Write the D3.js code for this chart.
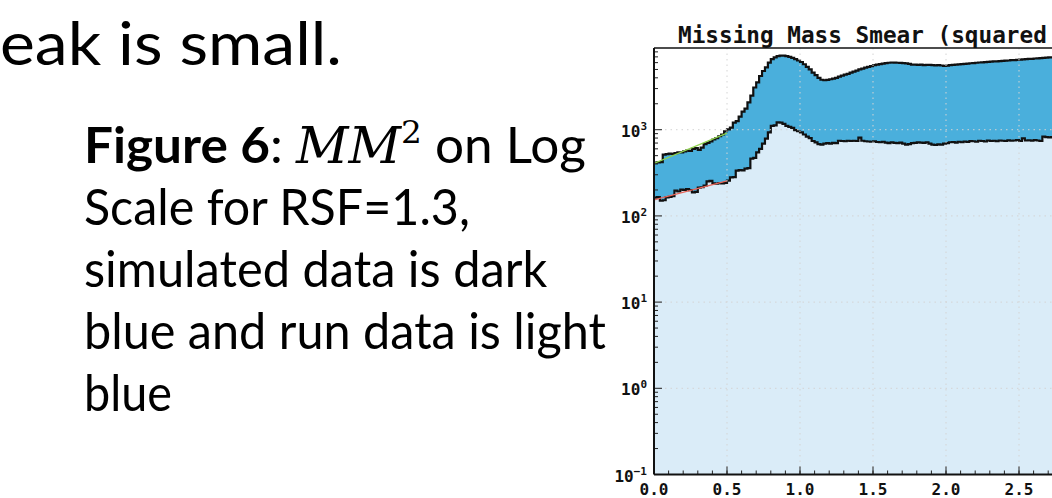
<!DOCTYPE html>
<html>
<head>
<meta charset="utf-8">
<script src="https://cdn.jsdelivr.net/npm/d3@7"></script>
<style>
  html, body { margin: 0; padding: 0; background: #fff; }
  svg { display: block; }
</style>
</head>
<body>
<script>
// histogram bins: left edge of first bin and bin width (MM^2, GeV^2)
var binStart = 0.0;
var binWidth = 0.02;

// simulated data (dark blue), counts per bin
var simCounts = [
  415, 418, 420, 513, 520, 528, 525, 535, 548, 545,
  560, 572, 568, 600, 610, 585, 620, 680, 705, 730,
  770, 800, 840, 880, 960, 1010, 1060, 1210, 1260, 1420,
  1620, 1760, 2070, 2480, 3090, 3550, 4200, 4800, 5300, 6000,
  6600, 6900, 7150, 7250, 7250, 7150, 7000, 6800, 6600, 6350,
  6100, 5750, 5350, 5000, 4600, 4300, 4000, 3800, 3750, 3780,
  3850, 3920, 4000, 4120, 4230, 4350, 4450, 4600, 4720, 4850,
  5000, 5120, 5250, 5360, 5480, 5600, 5700, 5780, 5850, 5920,
  5980, 6020, 6000, 5980, 5960, 5930, 5880, 5800, 5680, 5700,
  5650, 5680, 5620, 5640, 5660, 5600, 5580, 5620, 5560, 5500,
  5540, 5600, 5650, 5700, 5720, 5780, 5800, 5850, 5900, 5920,
  5980, 6020, 6050, 6080, 6120, 6150, 6200, 6220, 6250, 6300,
  6320, 6350, 6400, 6420, 6450, 6500, 6550, 6580, 6620, 6650,
  6700, 6720, 6780, 6820, 6870, 6900, 6920
];

// run data (light blue), counts per bin
var runCounts = [
  163, 165, 150, 152, 164, 166, 170, 196, 192, 202,
  200, 204, 199, 188, 190, 213, 215, 225, 252, 255,
  238, 236, 240, 238, 242, 256, 280, 282, 335, 340,
  338, 354, 358, 461, 470, 546, 600, 690, 786, 930,
  1110, 1120, 1215, 1210, 1170, 1110, 1080, 1050, 990, 960,
  930, 880, 830, 800, 740, 713, 680, 670, 690, 700,
  690, 705, 700, 745, 740, 735, 745, 740, 745, 740,
  808, 745, 735, 730, 725, 735, 720, 715, 725, 710,
  700, 715, 705, 700, 710, 690, 670, 680, 700, 705,
  713, 710, 705, 715, 690, 670, 665, 675, 670, 690,
  700, 715, 720, 710, 725, 715, 730, 720, 740, 735,
  725, 745, 740, 730, 750, 740, 745, 735, 750, 745,
  740, 755, 745, 750, 760, 740, 793, 750, 755, 745,
  760, 750, 740, 830, 820, 815, 820
];

// exponential fits over the low-MM^2 side
var fitX = [0.0, 0.5];
var simFit = [407, 915];
var runFit = [153, 255];

// axis ticks (only the labels that fall inside the picture)
var xTicks = [0.0, 0.5, 1.0, 1.5, 2.0, 2.5];
var xMinorTicks = d3.range(0, 28).map(d => d / 10);
var yDecades = [-1, 0, 1, 2, 3];

var svgWidth = 1052;
var svgHeight = 498;

var plot = { left: 654, top: 48, bottom: 474.5, right: 1092 };

var svg = d3.select("body").append("svg")
    .attr("width", svgWidth)
    .attr("height", svgHeight)
    .style("font-family", "'DejaVu Sans Mono', monospace");

svg.append("rect")
    .attr("width", svgWidth)
    .attr("height", svgHeight)
    .attr("fill", "#fff");

var x = d3.scaleLinear()
    .domain([0, 3])
    .range([plot.left, plot.right]);

var y = d3.scaleLog()
    .domain([0.1, 8870])
    .range([plot.bottom, plot.top]);

svg.append("clipPath")
    .attr("id", "plot-clip")
    .append("rect")
    .attr("x", plot.left)
    .attr("y", plot.top)
    .attr("width", svgWidth - plot.left)
    .attr("height", plot.bottom - plot.top);

var chartGroup = svg.append("g").attr("clip-path", "url(#plot-clip)");

function stepPoints(counts) {
    var pts = counts.map((v, i) => [binStart + i * binWidth, v]);
    pts.push([binStart + counts.length * binWidth, counts[counts.length - 1]]);
    return pts;
}

var histArea = d3.area()
    .curve(d3.curveStepAfter)
    .x(d => x(d[0]))
    .y0(plot.bottom)
    .y1(d => y(d[1]));

var histLine = d3.line()
    .curve(d3.curveStepAfter)
    .x(d => x(d[0]))
    .y(d => y(d[1]));

var series = [
    { counts: simCounts, fill: "#4aafdc" },
    { counts: runCounts, fill: "#daecf8" }
];

series.forEach(function (s) {
    var pts = stepPoints(s.counts);
    chartGroup.append("path")
        .attr("d", histArea(pts))
        .attr("fill", s.fill);
    chartGroup.append("path")
        .attr("d", histLine(pts))
        .attr("fill", "none")
        .attr("stroke", "#111")
        .attr("stroke-width", 2.2);
});

// fit lines
var fitLine = d3.line()
    .x(d => x(d[0]))
    .y(d => y(d[1]));

chartGroup.append("path")
    .attr("d", fitLine(fitX.map((v, i) => [v, simFit[i]])))
    .attr("fill", "none")
    .attr("stroke", "#8fd14f")
    .attr("stroke-width", 1.3);

chartGroup.append("path")
    .attr("d", fitLine(fitX.map((v, i) => [v, runFit[i]])))
    .attr("fill", "none")
    .attr("stroke", "#e8665a")
    .attr("stroke-width", 1.3);

// grid
chartGroup.selectAll(".xgrid")
    .data(xTicks.slice(1))
    .enter()
    .append("line")
    .attr("x1", d => x(d))
    .attr("x2", d => x(d))
    .attr("y1", plot.top)
    .attr("y2", plot.bottom)
    .attr("stroke", "#d4d4d4")
    .attr("stroke-width", 1)
    .attr("stroke-dasharray", "1.5,4");

chartGroup.selectAll(".ygrid")
    .data(yDecades)
    .enter()
    .append("line")
    .attr("x1", plot.left)
    .attr("x2", svgWidth)
    .attr("y1", d => y(Math.pow(10, d)))
    .attr("y2", d => y(Math.pow(10, d)))
    .attr("stroke", "#d4d4d4")
    .attr("stroke-width", 1)
    .attr("stroke-dasharray", "1.5,4");

// ticks (pointing inwards)
var yMinor = [];
yDecades.forEach(function (dec) {
    for (var k = 2; k <= 9; k++) {
        var v = k * Math.pow(10, dec);
        if (v < y.domain()[1]) yMinor.push(v);
    }
});

chartGroup.selectAll(".yminor")
    .data(yMinor)
    .enter()
    .append("line")
    .attr("x1", plot.left)
    .attr("x2", plot.left + 4)
    .attr("y1", d => y(d))
    .attr("y2", d => y(d))
    .attr("stroke", "#222")
    .attr("stroke-width", 1);

chartGroup.selectAll(".ymajor")
    .data(yDecades)
    .enter()
    .append("line")
    .attr("x1", plot.left)
    .attr("x2", plot.left + 8)
    .attr("y1", d => y(Math.pow(10, d)))
    .attr("y2", d => y(Math.pow(10, d)))
    .attr("stroke", "#222")
    .attr("stroke-width", 1);

chartGroup.selectAll(".xminor")
    .data(xMinorTicks)
    .enter()
    .append("line")
    .attr("x1", d => x(d))
    .attr("x2", d => x(d))
    .attr("y1", plot.bottom)
    .attr("y2", plot.bottom - 4)
    .attr("stroke", "#222")
    .attr("stroke-width", 1);

chartGroup.selectAll(".xmajor")
    .data(xTicks)
    .enter()
    .append("line")
    .attr("x1", d => x(d))
    .attr("x2", d => x(d))
    .attr("y1", plot.bottom)
    .attr("y2", plot.bottom - 8)
    .attr("stroke", "#222")
    .attr("stroke-width", 1);

// spines
svg.append("line")
    .attr("x1", plot.left).attr("x2", svgWidth)
    .attr("y1", plot.top).attr("y2", plot.top)
    .attr("stroke", "#111").attr("stroke-width", 1.5);
svg.append("line")
    .attr("x1", plot.left).attr("x2", svgWidth)
    .attr("y1", plot.bottom).attr("y2", plot.bottom)
    .attr("stroke", "#111").attr("stroke-width", 2);
svg.append("line")
    .attr("x1", plot.left).attr("x2", plot.left)
    .attr("y1", plot.top).attr("y2", plot.bottom)
    .attr("stroke", "#111").attr("stroke-width", 2);

// tick labels
svg.selectAll(".xlabel")
    .data(xTicks)
    .enter()
    .append("text")
    .attr("x", d => x(d))
    .attr("y", 495)
    .attr("text-anchor", "middle")
    .attr("font-size", "16px")
    .attr("font-weight", "bold")
    .attr("fill", "#111")
    .text(d => d.toFixed(1));

var yLabels = svg.selectAll(".ylabel")
    .data(yDecades)
    .enter()
    .append("text")
    .attr("x", 647)
    .attr("y", d => y(Math.pow(10, d)) + 7)
    .attr("text-anchor", "end")
    .attr("font-size", "16px")
    .attr("font-weight", "bold")
    .attr("fill", "#111");

yLabels.append("tspan").text("10");
yLabels.append("tspan")
    .attr("dy", -7)
    .attr("font-size", "11px")
    .text(d => String(d).replace("-", "\u2212"));

// title (the picture is cut just after "(squared")
svg.append("text")
    .attr("x", 678)
    .attr("y", 43)
    .attr("font-size", "22.7px")
    .attr("font-weight", "bold")
    .attr("fill", "#111")
    .text("Missing Mass Smear (squared");

// slide text on the left
var slideFont = "Lato, 'Open Sans', sans-serif";

function fitText(textSel, left, right, baseline) {
    var w = textSel.node().getBBox().width;
    var s = (right - left) / w;
    textSel.attr("transform", `translate(${left}, ${baseline}) scale(${s}, 1)`);
}

var head = svg.append("text")
    .attr("font-family", slideFont)
    .attr("font-size", "60px")
    .attr("fill", "#000")
    .text("eak is small.");
fitText(head, 0, 342, 65);

var fig = svg.append("text")
    .attr("font-family", slideFont)
    .attr("font-size", "50px")
    .attr("fill", "#000");
fig.append("tspan").attr("font-weight", "bold").text("Figure 6");
fig.append("tspan").text(": ");
fig.append("tspan")
    .attr("font-family", "'DejaVu Serif', serif")
    .attr("font-style", "italic")
    .text("MM");
fig.append("tspan")
    .attr("font-family", "'DejaVu Serif', serif")
    .attr("font-size", "32px")
    .attr("dy", -20)
    .text("2");
fig.append("tspan").attr("dy", 20).text(" on Log");
fitText(fig, 84, 586, 163);

var bodyLines = [
    { text: "Scale for RSF=1.3,", right: 470, baseline: 225 },
    { text: "simulated data is dark", right: 548, baseline: 287 },
    { text: "blue and run data is light", right: 606, baseline: 349 },
    { text: "blue", right: 172, baseline: 411 }
];

bodyLines.forEach(function (l) {
    var t = svg.append("text")
        .attr("font-family", slideFont)
        .attr("font-size", "50px")
        .attr("fill", "#000")
        .text(l.text);
    fitText(t, 84, l.right, l.baseline);
});
</script>
</body>
</html>
